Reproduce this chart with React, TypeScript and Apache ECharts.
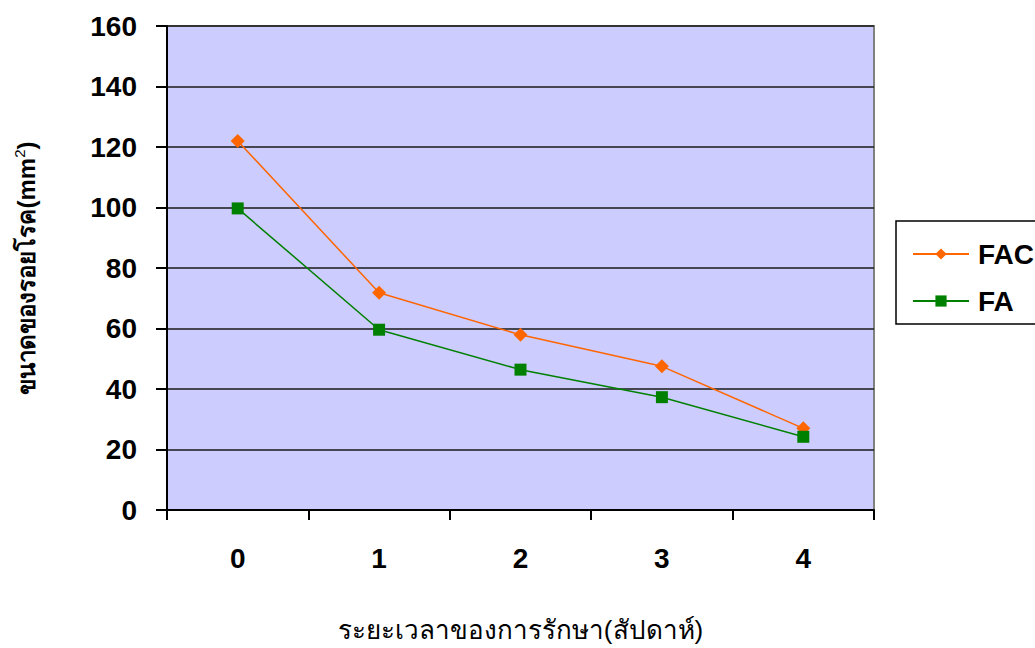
import React, { useEffect, useRef } from "react";
import * as echarts from "echarts";

const weeks = ["0", "1", "2", "3", "4"];
const facValues = [122, 71.8, 57.9, 47.5, 27];
const faValues = [99.7, 59.6, 46.4, 37.3, 24.2];
const yTicks = { min: 0, max: 160, interval: 20 };
const xTitle = "ระยะเวลาของการรักษา(สัปดาห์)";
const yTitleMain = "ขนาดของรอยโรค(mm";

const FONT = "'Liberation Sans', Arial, 'Noto Sans', sans-serif";

export default function App() {
  const ref = useRef<HTMLDivElement>(null);
  useEffect(() => {
    if (!ref.current) return;
    const chart = echarts.init(ref.current, undefined, { renderer: "svg" });
    chart.setOption({
      animation: false,
      backgroundColor: "#ffffff",
      textStyle: { fontFamily: FONT },
      grid: {
        left: 167,
        right: 161,
        top: 26,
        bottom: 134,
        show: true,
        backgroundColor: "#ccccff",
        borderColor: "#808080",
        borderWidth: 2,
      },
      graphic: [
        {
          type: "rect",
          shape: { x: 896, y: 221, width: 160, height: 103 },
          style: { fill: "#ffffff", stroke: "#000000", lineWidth: 1.5 },
          z: 0,
        },
      ],
      legend: {
        orient: "vertical",
        left: 907,
        top: 235,
        itemWidth: 56,
        itemHeight: 14,
        itemGap: 19,
        textStyle: { fontFamily: FONT, fontSize: 28, fontWeight: "bold", color: "#000", padding: [0, 0, 0, 4] },
        data: ["FAC", "FA"],
        z: 5,
      },
      xAxis: {
        type: "category",
        data: weeks,
        boundaryGap: true,
        name: xTitle,
        nameLocation: "middle",
        nameGap: 107,
        nameTextStyle: { fontFamily: FONT, fontSize: 26, color: "#000", fontWeight: "normal" },
        axisLine: { lineStyle: { color: "#000", width: 2 } },
        axisTick: { show: true, length: 10, lineStyle: { color: "#000", width: 2 } },
        axisLabel: { margin: 34, fontFamily: FONT, fontSize: 28, fontWeight: "bold", color: "#000" },
      },
      yAxis: {
        type: "value",
        min: yTicks.min,
        max: yTicks.max,
        interval: yTicks.interval,
        name: "{m|" + yTitleMain + "}{s|2}{m|)}",
        nameLocation: "middle",
        nameGap: 126,
        nameRotate: 90,
        nameTextStyle: {
          rich: {
            m: { fontFamily: FONT, fontSize: 24, fontWeight: "bold", color: "#000" },
            s: { fontFamily: FONT, fontSize: 15, fontWeight: "normal", color: "#000", verticalAlign: "top", padding: [0, 0, 14, 0] },
          },
        },
        axisLine: { show: true, lineStyle: { color: "#000", width: 2 } },
        axisTick: { show: true, length: 11, lineStyle: { color: "#000", width: 2 } },
        axisLabel: { margin: 30, fontFamily: FONT, fontSize: 28, fontWeight: "bold", color: "#000" },
        splitLine: { show: true, lineStyle: { color: "#1a1a1a", width: 1.5 } },
      },
      series: [
        {
          name: "FAC",
          type: "line",
          data: facValues,
          color: "#ff6600",
          symbol: "diamond",
          symbolSize: 14,
          lineStyle: { color: "#ff6600", width: 1.5 },
          itemStyle: { color: "#ff6600" },
          z: 3,
        },
        {
          name: "FA",
          type: "line",
          data: faValues,
          color: "#008000",
          symbol: "rect",
          symbolSize: 12,
          lineStyle: { color: "#008000", width: 1.5 },
          itemStyle: { color: "#008000" },
          z: 4,
        },
      ],
    });
    return () => chart.dispose();
  }, []);
  return (
    <div
      ref={ref}
      style={{ position: "fixed", left: 0, top: 0, width: 1035, height: 648 }}
    />
  );
}
